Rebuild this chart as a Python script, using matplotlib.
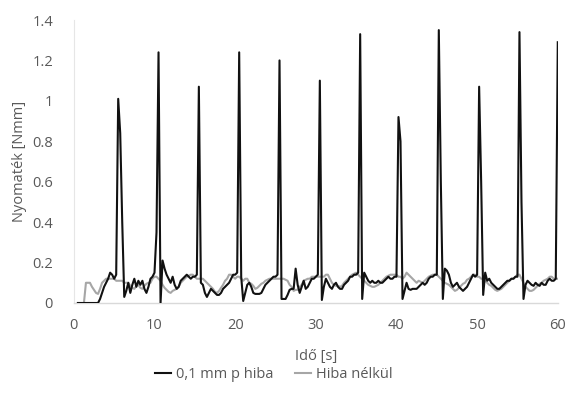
import numpy as np
import matplotlib
matplotlib.use("Agg")
import matplotlib.pyplot as plt

# idő tengely, 0.25 s lépés
ido = np.arange(0, 60.01, 0.25)

# 0,1 mm p hiba (fekete)
hibas = [
    np.nan, np.nan, 0, 0, 0, 0, 0, 0, 0, 0, 0, 0, 0, 0.02, 0.05, 0.08, 0.10, 0.12, 0.15, 0.14,
    0.12, 0.14, 1.01, 0.84, 0.40, 0.03, 0.06, 0.10, 0.05, 0.09, 0.12, 0.08, 0.11, 0.09, 0.11, 0.07, 0.05, 0.08, 0.12, 0.13,
    0.15, 0.35, 1.24, 0.0, 0.21, 0.17, 0.14, 0.12, 0.10, 0.13, 0.09, 0.07, 0.08, 0.11, 0.12, 0.13, 0.14, 0.13, 0.12, 0.13,
    0.13, 0.14, 1.07, 0.10, 0.09, 0.05, 0.03, 0.05, 0.07, 0.06, 0.05, 0.04, 0.04, 0.05, 0.07, 0.08, 0.09, 0.10, 0.12, 0.14,
    0.14, 0.15, 1.24, 0.13, 0.01, 0.05, 0.09, 0.10, 0.08, 0.05, 0.045, 0.045, 0.045, 0.05, 0.07, 0.09, 0.10, 0.11, 0.12, 0.13,
    0.13, 0.14, 1.20, 0.02, 0.02, 0.02, 0.04, 0.065, 0.07, 0.07, 0.17, 0.09, 0.05, 0.08, 0.11, 0.07, 0.08, 0.10, 0.12, 0.12,
    0.13, 0.14, 1.10, 0.015, 0.08, 0.12, 0.10, 0.08, 0.07, 0.09, 0.10, 0.08, 0.07, 0.07, 0.09, 0.10, 0.11, 0.13, 0.13, 0.14,
    0.14, 0.15, 1.33, 0.02, 0.15, 0.13, 0.11, 0.10, 0.11, 0.10, 0.10, 0.11, 0.10, 0.10, 0.11, 0.12, 0.13, 0.12, 0.12, 0.13,
    0.13, 0.92, 0.80, 0.02, 0.06, 0.10, 0.07, 0.065, 0.07, 0.07, 0.07, 0.08, 0.09, 0.10, 0.09, 0.10, 0.12, 0.13, 0.13, 0.14,
    0.14, 1.35, 0.60, 0.02, 0.17, 0.16, 0.14, 0.10, 0.08, 0.09, 0.10, 0.08, 0.07, 0.06, 0.07, 0.08, 0.10, 0.12, 0.14, 0.13,
    0.14, 1.07, 0.60, 0.04, 0.15, 0.11, 0.12, 0.10, 0.09, 0.08, 0.07, 0.07, 0.08, 0.09, 0.10, 0.11, 0.11, 0.12, 0.12, 0.13,
    0.13, 1.34, 0.50, 0.02, 0.09, 0.11, 0.10, 0.09, 0.085, 0.10, 0.09, 0.085, 0.10, 0.09, 0.09, 0.11, 0.12, 0.11, 0.11, 0.12,
    1.29,
]

# Hiba nélkül (szürke)
hibatlan = [
    np.nan, np.nan, np.nan, np.nan, np.nan, 0.0, 0.10, 0.10, 0.10, 0.08, 0.065, 0.05, 0.045, 0.07, 0.10, 0.11, 0.12, 0.12, 0.12, 0.12,
    0.12, 0.11, 0.11, 0.11, 0.11, 0.10, 0.10, 0.10, 0.085, 0.075, 0.07, 0.085, 0.09, 0.075, 0.07, 0.085, 0.095, 0.10, 0.10, 0.12,
    0.13, 0.13, 0.12, 0.11, 0.09, 0.075, 0.065, 0.055, 0.05, 0.06, 0.065, 0.07, 0.08, 0.10, 0.11, 0.12, 0.13, 0.135, 0.14, 0.14,
    0.13, 0.12, 0.12, 0.12, 0.12, 0.11, 0.10, 0.09, 0.08, 0.07, 0.055, 0.05, 0.06, 0.075, 0.09, 0.11, 0.12, 0.14, 0.14, 0.13,
    0.12, 0.13, 0.13, 0.12, 0.11, 0.12, 0.12, 0.10, 0.095, 0.085, 0.07, 0.075, 0.085, 0.095, 0.10, 0.11, 0.115, 0.12, 0.12, 0.12,
    0.12, 0.12, 0.12, 0.12, 0.12, 0.115, 0.11, 0.09, 0.08, 0.06, 0.065, 0.065, 0.08, 0.09, 0.11, 0.115, 0.12, 0.12, 0.13, 0.13,
    0.13, 0.13, 0.13, 0.13, 0.13, 0.14, 0.14, 0.12, 0.10, 0.09, 0.085, 0.085, 0.08, 0.085, 0.10, 0.11, 0.12, 0.13, 0.14, 0.145,
    0.15, 0.14, 0.13, 0.12, 0.11, 0.10, 0.09, 0.085, 0.08, 0.08, 0.085, 0.09, 0.10, 0.11, 0.12, 0.13, 0.135, 0.14, 0.14, 0.14,
    0.14, 0.13, 0.13, 0.12, 0.13, 0.15, 0.14, 0.13, 0.12, 0.11, 0.10, 0.11, 0.105, 0.10, 0.11, 0.12, 0.13, 0.135, 0.14, 0.14,
    0.14, 0.13, 0.12, 0.11, 0.10, 0.095, 0.09, 0.08, 0.07, 0.06, 0.065, 0.075, 0.085, 0.095, 0.10, 0.115, 0.12, 0.13, 0.14, 0.14,
    0.13, 0.13, 0.12, 0.12, 0.11, 0.10, 0.09, 0.085, 0.075, 0.065, 0.06, 0.065, 0.07, 0.08, 0.09, 0.10, 0.11, 0.12, 0.12, 0.13,
    0.14, 0.14, 0.12, 0.10, 0.08, 0.07, 0.06, 0.06, 0.065, 0.075, 0.085, 0.095, 0.10, 0.11, 0.115, 0.12, 0.13, 0.13, 0.12, 0.12,
    0.12,
]

yticks = [0, 0.2, 0.4, 0.6, 0.8, 1, 1.2, 1.4]
ytick_labels = ["0", "0.2", "0.4", "0.6", "0.8", "1", "1.2", "1.4"]
xticks = [0, 10, 20, 30, 40, 50, 60]

plt.rcParams['font.family'] = ['Open Sans', 'DejaVu Sans']
szoveg = "#595959"

fig = plt.figure(figsize=(5.68, 4.0), dpi=100)
ax = fig.add_axes([0.130, 0.2425, 0.852, 0.7075])

ax.plot(ido, hibas, color="#111111", lw=1.5, label="0,1 mm p hiba", zorder=3)
ax.plot(ido, hibatlan, color="#a6a6a6", lw=1.5, label="Hiba nélkül", zorder=2)

ax.set_xlim(0, 60)
ax.set_ylim(0, 1.4)
ax.set_xticks(xticks)
ax.set_yticks(yticks)
ax.set_yticklabels(ytick_labels)
ax.tick_params(length=0, labelsize=10.5, colors=szoveg)
ax.tick_params(axis="x", pad=11)
ax.tick_params(axis="y", pad=15)

for s in ["top", "right"]:
    ax.spines[s].set_visible(False)
ax.spines["left"].set_color("#e6e6e6")
ax.spines["bottom"].set_color("#d9d9d9")
ax.spines["left"].set_linewidth(0.8)
ax.spines["bottom"].set_linewidth(1.0)

ax.set_xlabel("Idő [s]", fontsize=10.5, color=szoveg, labelpad=11)
ax.set_ylabel("Nyomaték [Nmm]", fontsize=10.5, color=szoveg, labelpad=4)

leg = fig.legend(loc="center", bbox_to_anchor=(0.482, 0.0625), ncol=2, frameon=False,
                 fontsize=10.5, handlelength=1.1, handletextpad=0.3, columnspacing=1.5)
for t in leg.get_texts():
    t.set_color(szoveg)

fig.savefig("out.png", dpi=100)
